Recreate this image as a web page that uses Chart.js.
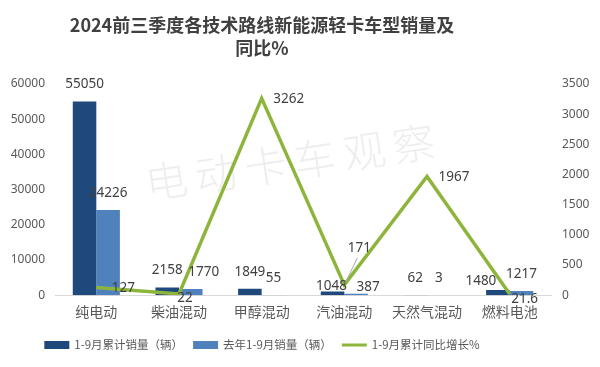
<!DOCTYPE html>
<html>
<head>
<meta charset="utf-8">
<script src="https://cdn.jsdelivr.net/npm/chart.js@4.4.1/dist/chart.umd.min.js"></script>
<style>
  html, body { margin: 0; padding: 0; background: #fff; }
  #wrap { width: 600px; height: 367px; }
</style>
</head>
<body>
<div id="wrap"><canvas id="salesChart"></canvas></div>
<script>
// categories and series
const categories = ["纯电动", "柴油混动", "甲醇混动", "汽油混动", "天然气混动", "燃料电池"];
const sales2024 = [55050, 2158, 1849, 1048, 62, 1480];
const sales2023 = [24226, 1770, 55, 387, 3, 1217];
const growthPct = [127, 22, 3262, 171, 1967, 21.6];

const seriesNames = ["1-9月累计销量（辆）", "去年1-9月销量（辆）", "1-9月累计同比增长%"];
const titleLines = ["2024前三季度各技术路线新能源轻卡车型销量及", "同比%"];
const watermark = "电动卡车观察";

const DARK = "#1f497d";
const LIGHT = "#4f81bd";
const GREEN = "#8db53c";
const TXT = "#595959";

// label nudges (Excel placed a few labels by hand)
const labelNudge = {
  "0-3": [-1, 12], "0-5": [-17, 8],
  "1-1": [13, 0], "1-3": [12, 10],
  "2-1": [-21, 3], "2-3": [-16, 4], "2-5": [-12, 4]
};

const canvas = document.getElementById("salesChart");
const ctx = canvas.getContext("2d");

const decorPlugin = {
  id: "decor",
  beforeDatasetsDraw(chart) {
    const c = chart.ctx;
    c.save();
    c.translate(290, 162);
    c.rotate(-8.6 * Math.PI / 180);
    c.fillStyle = "rgba(200,200,200,0.3)";
    c.font = "300 42px 'Noto Sans CJK SC'";
    c.textAlign = "center";
    c.textBaseline = "middle";
    const step = 50;
    for (let i = 0; i < watermark.length; i++) {
      c.fillText(watermark[i], (i - (watermark.length - 1) / 2) * step, 0);
    }
    c.restore();
  },
  afterDatasetsDraw(chart) {
    const c = chart.ctx;
    c.save();
    c.font = "13.5px 'Noto Sans'";
    c.fillStyle = "#404040";
    c.textAlign = "center";
    c.textBaseline = "middle";
    chart.data.datasets.forEach((ds, di) => {
      const meta = chart.getDatasetMeta(di);
      meta.data.forEach((el, i) => {
        let x = el.x, y = el.y;
        if (ds.type === "line") { x += 27; y += 1; } else { y -= 17; }
        const n = labelNudge[di + "-" + i];
        if (n) { x += n[0]; y += n[1]; }
        if (di === 2 && i === 3) {
          // 171 is lifted with a leader line
          c.strokeStyle = "#a6a6a6";
          c.lineWidth = 1;
          c.beginPath();
          c.moveTo(el.x + 1, el.y - 2);
          c.lineTo(el.x + 13, el.y - 27);
          c.stroke();
          x = el.x + 15; y = el.y - 37;
        }
        c.fillText(String(ds.data[i]), x, y);
      });
    });
    c.restore();
  },
  afterDraw(chart) {
    const c = chart.ctx;
    c.save();
    // title
    c.fillStyle = "#404040";
    c.font = "bold 18px 'Noto Sans CJK SC'";
    c.textAlign = "center";
    c.textBaseline = "middle";
    c.fillText(titleLines[0], 262, 25);
    c.fillText(titleLines[1], 262, 48);

    // legend
    c.font = "11.5px 'Noto Sans CJK SC'";
    c.textAlign = "left";
    const boxW = 25, gap = 5, itemGap = 10, ly = 345;
    const widths = seriesNames.map((s) => c.measureText(s).width);
    let total = 0;
    widths.forEach((w) => { total += boxW + gap + w; });
    total += itemGap * (widths.length - 1);
    let x = 262 - total / 2;
    chart.data.datasets.forEach((ds, i) => {
      if (ds.type === "line") {
        c.strokeStyle = ds.borderColor;
        c.lineWidth = 3;
        c.beginPath();
        c.moveTo(x, ly);
        c.lineTo(x + boxW, ly);
        c.stroke();
      } else {
        c.fillStyle = ds.backgroundColor;
        c.fillRect(x, ly - 4, boxW, 8);
      }
      x += boxW + gap;
      c.fillStyle = TXT;
      c.fillText(ds.label, x, ly);
      x += widths[i] + itemGap;
    });
    c.restore();
  }
};

const plainTick = (v) => String(v);

new Chart(ctx, {
  type: "bar",
  data: {
    labels: categories,
    datasets: [
      {
        label: seriesNames[0],
        data: sales2024,
        backgroundColor: DARK,
        yAxisID: "y",
        order: 1,
        categoryPercentage: 0.57,
        barPercentage: 1.0,
      },
      {
        label: seriesNames[1],
        data: sales2023,
        backgroundColor: LIGHT,
        yAxisID: "y",
        order: 1,
        categoryPercentage: 0.57,
        barPercentage: 1.0,
      },
      {
        type: "line",
        label: seriesNames[2],
        data: growthPct,
        borderColor: GREEN,
        backgroundColor: GREEN,
        borderWidth: 3.5,
        pointRadius: 0,
        tension: 0,
        fill: false,
        yAxisID: "y1",
        order: 0,
      },
    ],
  },
  options: {
    responsive: true,
    maintainAspectRatio: false,
    animation: false,
    layout: { padding: { top: 84, bottom: 39, left: 11, right: 0 } },
    plugins: {
      legend: { display: false },
      title: { display: false },
      tooltip: { enabled: false },
    },
    scales: {
      x: {
        grid: { display: false, drawTicks: false },
        border: { display: true, color: "#d9d9d9", width: 1 },
        ticks: {
          color: TXT,
          padding: 8,
          maxRotation: 0,
          minRotation: 0,
          autoSkip: false,
          font: { size: 14, family: "'Noto Sans CJK SC'" },
        },
      },
      y: {
        position: "left",
        min: 0,
        max: 60000,
        grid: { display: false, drawTicks: false },
        border: { display: false },
        afterFit: (scale) => { scale.width = 44; },
        ticks: {
          stepSize: 10000,
          color: TXT,
          padding: 10,
          callback: plainTick,
          font: { size: 12, family: "'Noto Sans'" },
        },
      },
      y1: {
        position: "right",
        min: 0,
        max: 3500,
        grid: { display: false, drawTicks: false },
        border: { display: false },
        afterFit: (scale) => { scale.width = 49; },
        ticks: {
          stepSize: 500,
          color: TXT,
          padding: 11,
          callback: plainTick,
          font: { size: 12, family: "'Noto Sans'" },
        },
      },
    },
  },
  plugins: [decorPlugin],
});
</script>
</body>
</html>
